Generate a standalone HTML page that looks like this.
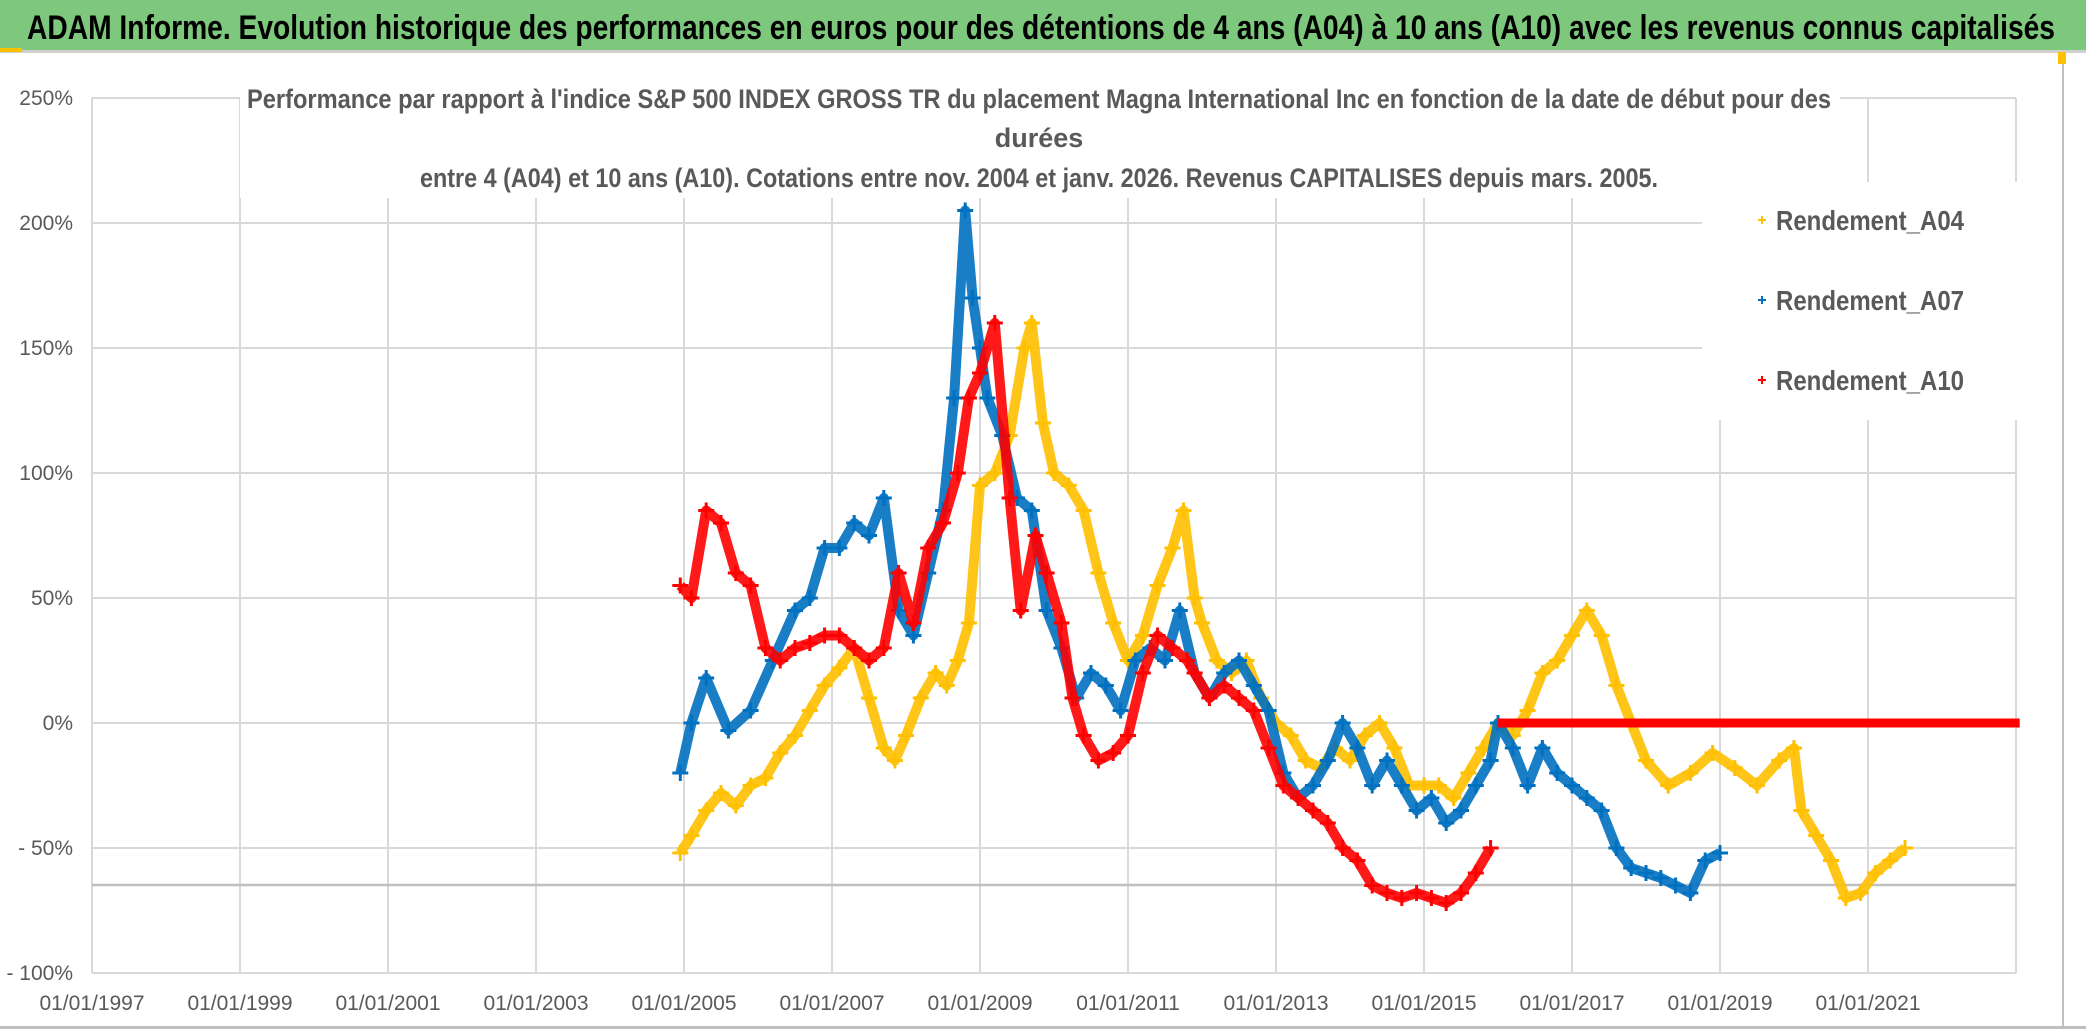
<!DOCTYPE html>
<html><head><meta charset="utf-8"><style>
html,body{margin:0;padding:0;background:#fff}
svg{display:block;font-family:"Liberation Sans Narrow","Liberation Sans",sans-serif}
</style></head><body>
<svg id="chart" width="2086" height="1031" viewBox="0 0 2086 1031" xmlns="http://www.w3.org/2000/svg">
<rect x="0" y="0" width="2086" height="1031" fill="#fff"/>
<rect x="0" y="0" width="2086" height="50" fill="#7DC87D"/>
<rect x="0" y="50" width="2086" height="3" fill="#d0d0d0"/>
<rect x="0" y="48" width="22" height="4" fill="#FFC000"/>
<text x="27" y="39" font-size="34" font-weight="bold" fill="#000" textLength="2028" lengthAdjust="spacingAndGlyphs">ADAM Informe. Evolution historique des performances en euros pour des détentions de 4 ans (A04) à 10 ans (A10) avec les revenus connus capitalisés</text>
<rect x="2062" y="52" width="2" height="975" fill="#bfbfbf"/>
<rect x="2058" y="52" width="8" height="12" fill="#FFC000"/>
<rect x="0" y="1026" width="2086" height="3" fill="#bfbfbf"/>
<g id="grid"></g>
<g id="marks"></g>
<rect x="240" y="72" width="1600" height="126" fill="#fff"/>
<rect x="1702" y="182" width="330" height="238" fill="#fff"/>
<g fill="#595959" font-size="27" font-weight="bold" text-anchor="middle">
<text x="1039" y="108" textLength="1584" lengthAdjust="spacingAndGlyphs">Performance par rapport à l'indice S&amp;P 500 INDEX GROSS TR  du placement Magna International Inc en fonction de la date de début pour des</text>
<text x="1039" y="147">durées</text>
<text x="1039" y="187" textLength="1238" lengthAdjust="spacingAndGlyphs">entre 4 (A04) et 10 ans (A10). Cotations entre nov. 2004 et janv. 2026. Revenus CAPITALISES depuis mars. 2005.</text>
</g>
<g id="legend" font-size="28" font-weight="bold" fill="#595959"></g>
<g id="axes" fill="#595959" font-size="21"></g>
</svg>
<script>
const yTicks = [250, 200, 150, 100, 50, 0, -50, -100];
const yTickLabels = ["250%", "200%", "150%", "100%", "50%", "0%", "- 50%", "- 100%"];
const xTickYears = [1997, 1999, 2001, 2003, 2005, 2007, 2009, 2011, 2013, 2015, 2017, 2019, 2021];
const xTickLabels = ["01/01/1997","01/01/1999","01/01/2001","01/01/2003","01/01/2005","01/01/2007","01/01/2009","01/01/2011","01/01/2013","01/01/2015","01/01/2017","01/01/2019","01/01/2021"];
const seriesNames = ["Rendement_A04", "Rendement_A07", "Rendement_A10"];
const seriesColors = ["#FFC000", "#0070C0", "#FF0000"];
const a04Years = [2004.95,2005.1,2005.3,2005.5,2005.7,2005.9,2006.1,2006.3,2006.5,2006.7,2006.9,2007.1,2007.3,2007.5,2007.7,2007.85,2008.0,2008.2,2008.4,2008.55,2008.7,2008.85,2009.0,2009.2,2009.4,2009.6,2009.7,2009.85,2010.0,2010.2,2010.4,2010.6,2010.8,2011.0,2011.2,2011.4,2011.6,2011.75,2011.9,2012.0,2012.2,2012.4,2012.6,2012.8,2013.0,2013.2,2013.4,2013.6,2013.8,2014.0,2014.2,2014.4,2014.6,2014.8,2015.0,2015.2,2015.4,2015.6,2015.8,2016.0,2016.2,2016.4,2016.6,2016.8,2017.0,2017.2,2017.4,2017.6,2017.8,2018.0,2018.3,2018.6,2018.9,2019.2,2019.5,2019.8,2020.0,2020.1,2020.3,2020.5,2020.7,2020.9,2021.1,2021.3,2021.5];
const a04Values = [-52,-45,-35,-28,-33,-25,-22,-12,-5,5,15,22,30,10,-10,-15,-5,10,20,15,25,40,95,100,115,150,160,120,100,95,85,60,40,25,35,55,70,85,50,40,25,20,25,10,0,-5,-15,-18,-10,-15,-5,0,-10,-25,-25,-25,-30,-20,-10,0,-5,5,20,25,35,45,35,15,0,-15,-25,-20,-12,-18,-25,-15,-10,-35,-45,-55,-70,-68,-60,-55,-50];
const a04ZeroYears = [2022.0, 2022.9];
const a07Years = [2004.95,2005.1,2005.3,2005.6,2005.9,2006.2,2006.5,2006.7,2006.9,2007.1,2007.3,2007.5,2007.7,2007.9,2008.1,2008.3,2008.5,2008.65,2008.8,2008.9,2009.0,2009.1,2009.3,2009.5,2009.7,2009.9,2010.1,2010.3,2010.5,2010.7,2010.9,2011.1,2011.3,2011.5,2011.7,2011.9,2012.1,2012.3,2012.5,2012.7,2012.9,2013.1,2013.3,2013.5,2013.7,2013.9,2014.1,2014.3,2014.5,2014.7,2014.9,2015.1,2015.3,2015.5,2015.7,2015.9,2016.0,2016.2,2016.4,2016.6,2016.8,2017.0,2017.2,2017.4,2017.6,2017.8,2018.0,2018.2,2018.4,2018.6,2018.8,2019.0];
const a07Values = [-20,0,18,-3,5,25,45,50,70,70,80,75,90,45,35,60,85,130,205,170,150,130,115,90,85,45,30,10,20,15,5,25,30,25,45,20,10,20,25,15,5,-20,-30,-25,-15,0,-10,-25,-15,-25,-35,-30,-40,-35,-25,-15,0,-10,-25,-10,-20,-25,-30,-35,-50,-58,-60,-62,-65,-68,-55,-52];
const a10Years = [2004.95,2005.1,2005.3,2005.5,2005.7,2005.9,2006.1,2006.3,2006.5,2006.7,2006.9,2007.1,2007.3,2007.5,2007.7,2007.9,2008.1,2008.3,2008.5,2008.7,2008.85,2009.0,2009.2,2009.4,2009.55,2009.75,2009.9,2010.1,2010.25,2010.4,2010.6,2010.8,2011.0,2011.2,2011.4,2011.6,2011.8,2011.9,2012.1,2012.3,2012.5,2012.7,2012.9,2013.1,2013.3,2013.5,2013.7,2013.9,2014.1,2014.3,2014.5,2014.7,2014.9,2015.1,2015.3,2015.5,2015.7,2015.9];
const a10Values = [55,50,85,80,60,55,30,25,30,32,35,35,30,25,30,60,40,70,80,100,130,140,160,90,45,75,60,40,10,-5,-15,-12,-5,20,35,30,25,20,10,15,10,5,-10,-25,-30,-35,-40,-50,-55,-65,-68,-70,-68,-70,-72,-68,-60,-50];
const a10ZeroYears = [2016.0, 2023.05];

const X0 = 92, PX_PER_YEAR = 74, Y0 = 98, PX_PER_PCT = 2.5;
function xs(year){ return X0 + (year - 1997) * PX_PER_YEAR; }
function ys(v){ return Y0 + (250 - v) * PX_PER_PCT; }
const NS = "http://www.w3.org/2000/svg";
function mk(tag, attrs, parent){ const e = document.createElementNS(NS, tag); for (const k in attrs) e.setAttribute(k, attrs[k]); parent.appendChild(e); return e; }

const grid = document.getElementById('grid');
yTicks.forEach(function(v){
  const l = mk('line', {x1: xs(1997), x2: xs(2023), y1: ys(v), y2: ys(v), stroke: '#d9d9d9', 'stroke-width': 2}, grid);
  
  
});
for (let yr = 1997; yr <= 2023; yr += 2) {
  const l = mk('line', {x1: xs(yr), x2: xs(yr), y1: ys(250), y2: ys(-100), stroke: '#d9d9d9', 'stroke-width': 2}, grid);
  
  
}
const ax = mk('line', {x1: xs(1997), x2: xs(2023), y1: 885, y2: 885, stroke: '#bfbfbf', 'stroke-width': 2.5}, grid);



const axes = document.getElementById('axes');
yTicks.forEach(function(v, i){
  const t = mk('text', {x: 73, y: ys(v) + 7, 'text-anchor': 'end'}, axes);
  t.textContent = yTickLabels[i];
  
  
});
xTickYears.forEach(function(yr, i){
  const t = mk('text', {x: xs(yr), y: 1010, 'text-anchor': 'middle'}, axes);
  t.textContent = xTickLabels[i];
  
  
});

const marks = document.getElementById('marks');
function drawSeries(years, vals, color, name){
  const g = mk('g', {}, marks);
  
  
  const pts = years.map(function(y, i){ return xs(y) + ',' + ys(vals[i]); }).join(' ');
  mk('polyline', {points: pts, fill: 'none', stroke: color, 'stroke-width': 10, 'stroke-linejoin': 'round', opacity: 0.9}, g);
  years.forEach(function(y, i){
    const cx = xs(y), cy = ys(vals[i]);
    const p = mk('path', {d: 'M' + (cx-8) + ' ' + cy + 'h16M' + cx + ' ' + (cy-8) + 'v16', stroke: color, 'stroke-width': 3}, g);
    
    
  });
}
function drawZero(years, color, name, w){
  const l = mk('line', {x1: xs(years[0]), x2: xs(years[1]), y1: ys(0), y2: ys(0), stroke: color, 'stroke-width': w}, marks);
  
  
}
drawSeries(a04Years, a04Values, seriesColors[0], 'series-a04');
drawZero(a04ZeroYears, seriesColors[0], 'series-a04-zero', 6);
drawSeries(a07Years, a07Values, seriesColors[1], 'series-a07');
drawSeries(a10Years, a10Values, seriesColors[2], 'series-a10');
drawZero(a10ZeroYears, seriesColors[2], 'series-a10-zero', 9);

const legend = document.getElementById('legend');
seriesNames.forEach(function(n, i){
  const y = 220 + i * 80;
  const m = mk('path', {d: 'M1758 ' + y + 'h8M1762 ' + (y-4) + 'v8', stroke: seriesColors[i], 'stroke-width': 2}, legend);
  
  
  const t = mk('text', {x: 1776, y: y + 10, textLength: 188, lengthAdjust: 'spacingAndGlyphs'}, legend);
  t.textContent = n;
  
  
});
</script>
</body></html>
